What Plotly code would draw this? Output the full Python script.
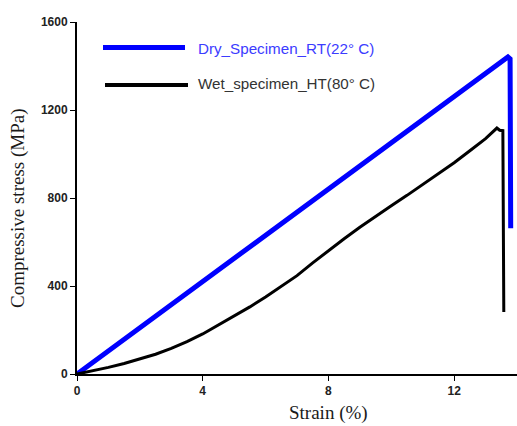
import plotly.graph_objects as go

# Data
dry_strain = [0.0, 13.71, 13.78, 13.80]
dry_stress = [0, 1441, 1432, 662]

wet_strain = [0.0, 0.5, 1.0, 1.5, 2.0, 2.5, 3.0, 3.5, 4.0, 4.5, 5.0, 5.5, 6.0, 6.5, 7.0, 7.5,
              8.0, 8.5, 9.0, 9.5, 10.0, 10.5, 11.0, 11.5, 12.0, 12.5, 13.0, 13.36, 13.45, 13.55, 13.58]
wet_stress = [0, 14, 30, 48, 68, 90, 116, 147, 182, 222, 262, 305, 350, 398, 447, 505,
              562, 615, 667, 717, 765, 812, 860, 910, 960, 1015, 1070, 1118, 1108, 1106, 282]

x_ticks = [0, 4, 8, 12]
y_ticks = [0, 400, 800, 1200, 1600]

legend_names = ["Dry_Specimen_RT(22° C)", "Wet_specimen_HT(80° C)"]
x_title = "Strain (%)"
y_title = "Compressive stress (MPa)"

fig = go.Figure()
fig.add_trace(go.Scatter(x=dry_strain, y=dry_stress, mode="lines",
                         line=dict(color="#0000ff", width=5), name=legend_names[0],
                         showlegend=False, cliponaxis=False))
fig.add_trace(go.Scatter(x=wet_strain, y=wet_stress, mode="lines",
                         line=dict(color="black", width=3), name=legend_names[1],
                         showlegend=False, cliponaxis=False))

tick_font = dict(family="Liberation Sans Narrow, Arial Narrow, Liberation Sans", size=12, color="#222",
                 weight="bold")
title_font = dict(family="Liberation Serif, Times New Roman, serif", size=19, color="#1a1a1a")

fig.update_xaxes(range=[0, 14.0], tickvals=x_ticks, showline=True, linecolor="black", linewidth=2,
                 ticks="outside", ticklen=5, tickcolor="black", showgrid=False, zeroline=False,
                 tickfont=tick_font, automargin=False)
fig.update_yaxes(range=[0, 1600], tickvals=y_ticks, showline=True, linecolor="black", linewidth=2,
                 ticks="outside", ticklen=5, tickcolor="black", showgrid=False, zeroline=False,
                 tickfont=tick_font, automargin=False)

W, H = 517, 426
plot_left, plot_right, plot_top, plot_bottom = 77, 517, 22, 374
l = plot_left
r = W - plot_right
t = plot_top
b = H - plot_bottom

def px(xp):
    return (xp - plot_left) / (plot_right - plot_left)

def py(yp):
    return (plot_bottom - yp) / (plot_bottom - plot_top)

legend_colors = ["#0000ff", "black"]
legend_text_colors = ["#3c3cff", "#333"]
legend_widths = [5, 4]
legend_line_y = [47.5, 85]
legend_text_y = [48.5, 83.5]
legend_x = [(103, 185), (105, 188)]
shapes = []
annotations = []
for i in range(2):
    shapes.append(dict(type="line", xref="paper", yref="paper",
                       x0=px(legend_x[i][0]), x1=px(legend_x[i][1]),
                       y0=py(legend_line_y[i]), y1=py(legend_line_y[i]),
                       line=dict(color=legend_colors[i], width=legend_widths[i])))
    annotations.append(dict(xref="paper", yref="paper", x=px(196), y=py(legend_text_y[i]),
                            xanchor="left", yanchor="middle", showarrow=False,
                            text=legend_names[i],
                            font=dict(family="Liberation Sans, Arial", size=15.2, color=legend_text_colors[i])))

annotations.append(dict(xref="paper", yref="paper", x=px(328), y=py(413), xanchor="center",
                        yanchor="middle", showarrow=False, text=x_title, font=title_font))
annotations.append(dict(xref="paper", yref="paper", x=px(18), y=py(209), xanchor="center",
                        yanchor="middle", showarrow=False, text=y_title, textangle=-90,
                        font=title_font))

fig.update_layout(width=W, height=H, margin=dict(l=l, r=r, t=t, b=b),
                  plot_bgcolor="white", paper_bgcolor="white",
                  shapes=shapes, annotations=annotations)

page_fix = ("document.documentElement.style.overflow='hidden';"
            "document.body.style.overflow='hidden';"
            "document.body.style.margin='0px';")
fig.write_html("out.html", post_script=page_fix, config={"displayModeBar": False})
